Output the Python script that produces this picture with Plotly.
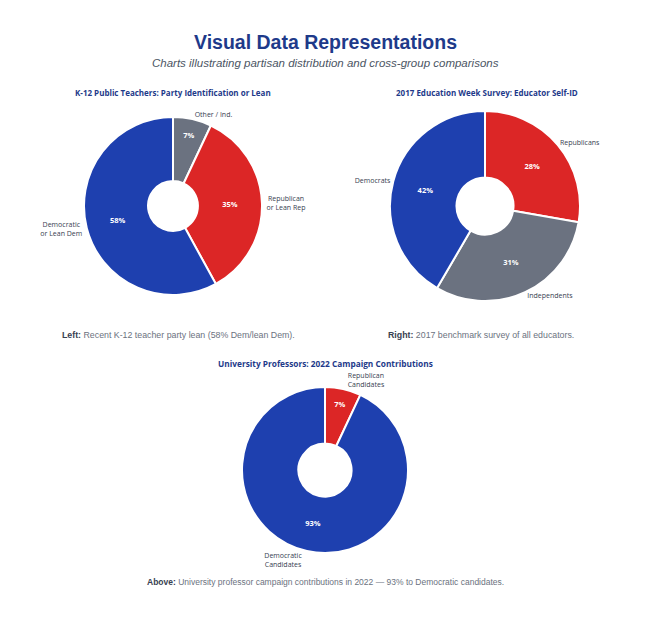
import plotly.graph_objects as go

# data
k12_labels = ["Other / Ind.", "Republican<br>or Lean Rep", "Democratic<br>or Lean Dem"]
k12_values = [7, 35, 58]
k12_colors = ["#6b7280", "#dc2626", "#1e40af"]

edweek_labels = ["Republicans", "Independents", "Democrats"]
edweek_values = [28, 31, 42]
edweek_colors = ["#dc2626", "#6b7280", "#1e40af"]

prof_labels = ["Republican<br>Candidates", "Democratic<br>Candidates"]
prof_values = [7, 93]
prof_colors = ["#dc2626", "#1e40af"]

# page is 648x618, the plot div sits 8px in (body margin)
OFF = 8
W, H = 648 - 2 * OFF, 618 - 2 * OFF
TITLE_BLUE = "#1e3a8a"


def dom(cx, cy, d):
    """page pixel centre + diameter -> paper domain"""
    cx, cy = cx - OFF, cy - OFF
    return dict(x=[(cx - d / 2) / W, (cx + d / 2) / W],
                y=[1 - (cy + d / 2) / H, 1 - (cy - d / 2) / H])


def add_donut(fig, labels, values, colors, domain, hole=0.3):
    # filled slices with the percent inside
    fig.add_trace(go.Pie(
        labels=labels, values=values, domain=domain, hole=hole,
        sort=False, direction="clockwise", rotation=0,
        marker=dict(colors=colors, line=dict(color="white", width=2)),
        texttemplate="<b>%{value}%</b>", textposition="inside",
        insidetextorientation="horizontal",
        textfont=dict(color="white", size=7.5, family="Open Sans"),
        showlegend=False,
    ))
    # transparent copy just for the outside labels
    fig.add_trace(go.Pie(
        labels=labels, values=values, domain=domain, hole=hole,
        sort=False, direction="clockwise", rotation=0,
        marker=dict(colors=["rgba(0,0,0,0)"] * len(values), line=dict(width=0)),
        textinfo="label", textposition="outside",
        textfont=dict(color="#374151", size=7, family="Open Sans"),
        hoverinfo="skip", showlegend=False,
    ))


fig = go.Figure()
add_donut(fig, k12_labels, k12_values, k12_colors, dom(173, 206, 178), hole=0.28)
add_donut(fig, edweek_labels, edweek_values, edweek_colors, dom(485, 206, 190))
add_donut(fig, prof_labels, prof_values, prof_colors, dom(325, 470, 166), hole=0.32)

annots = [
    dict(x=325, y=42, text="<b>Visual Data Representations</b>",
         font=dict(size=19.5, color=TITLE_BLUE, family="Liberation Sans")),
    dict(x=325, y=63, text="<i>Charts illustrating partisan distribution and cross-group comparisons</i>",
         font=dict(size=11.5, color="#4b5563", family="Liberation Sans")),
    dict(x=173, y=92, text="<b>K-12 Public Teachers: Party Identification or Lean</b>",
         font=dict(size=8, color=TITLE_BLUE, family="Open Sans")),
    dict(x=487, y=92, text="<b>2017 Education Week Survey: Educator Self-ID</b>",
         font=dict(size=8, color=TITLE_BLUE, family="Open Sans")),
    dict(x=325, y=363, text="<b>University Professors: 2022 Campaign Contributions</b>",
         font=dict(size=8.3, color=TITLE_BLUE, family="Open Sans")),
    dict(x=60, y=335, xanchor="left",
         text="<b style='color:#374151'>Left:</b> Recent K-12 teacher party lean (58% Dem/lean Dem).",
         font=dict(size=8.8, color="#6b7280", family="Liberation Sans")),
    dict(x=386, y=335, xanchor="left",
         text="<b style='color:#374151'>Right:</b> 2017 benchmark survey of all educators.",
         font=dict(size=8.8, color="#6b7280", family="Liberation Sans")),
    dict(x=325, y=582,
         text="<b style='color:#374151'>Above:</b> University professor campaign contributions in 2022 \u2014 93% to Democratic candidates.",
         font=dict(size=8.5, color="#6b7280", family="Liberation Sans")),
]
for a in annots:
    fig.add_annotation(
        x=(a["x"] - OFF) / W, y=1 - (a["y"] - OFF) / H, xref="paper", yref="paper",
        xanchor=a.get("xanchor", "center"), yanchor="middle",
        text=a["text"], font=a["font"], showarrow=False,
    )

fig.update_layout(
    width=W, height=H,
    margin=dict(l=0, r=0, t=0, b=0),
    paper_bgcolor="white", plot_bgcolor="white",
)
fig.write_html("out.html")
